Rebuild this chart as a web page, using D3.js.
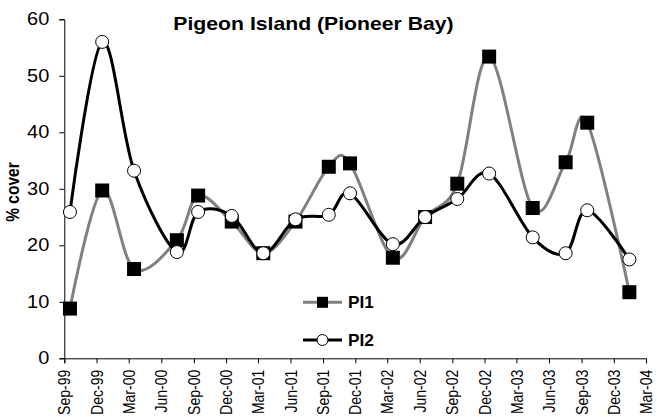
<!DOCTYPE html>
<html>
<head>
<meta charset="utf-8">
<script src="https://cdn.jsdelivr.net/npm/d3@7"></script>
<style>
  html, body { margin: 0; padding: 0; background: #fff; }
  svg { display: block; font-family: "Liberation Sans", Arial, sans-serif; }
</style>
</head>
<body>
<svg id="chart" width="657" height="417"></svg>
<script>
// ---- data ----
const sampleDates = ["1999-09-17","1999-12-17","2000-03-16","2000-07-15","2000-09-13","2000-12-17",
  "2001-03-16","2001-06-15","2001-09-17","2001-11-16","2002-03-17","2002-06-16",
  "2002-09-15","2002-12-14","2003-04-16","2003-07-18","2003-09-17","2004-01-14"];
const pi1 = [8.8, 29.7, 15.8, 20.9, 28.8, 24.2, 18.6, 24.2, 33.9, 34.5, 17.8, 25.0, 30.9, 53.4, 26.6, 34.7, 41.7, 11.7];
const pi2 = [25.9, 56.0, 33.2, 18.8, 25.9, 25.2, 18.6, 24.6, 25.4, 29.2, 20.2, 25.0, 28.2, 32.7, 21.4, 18.6, 26.2, 17.5];
const xTickLabels = ["Sep-99","Dec-99","Mar-00","Jun-00","Sep-00","Dec-00","Mar-01","Jun-01","Sep-01","Dec-01",
  "Mar-02","Jun-02","Sep-02","Dec-02","Mar-03","Jun-03","Sep-03","Dec-03","Mar-04"];
const yTicks = [0, 10, 20, 30, 40, 50, 60];
const seriesNames = ["PI1", "PI2"];
const titleText = "Pigeon Island (Pioneer Bay)";
const yTitle = "% cover";

// ---- setup ----
const SX = 1.14; // horizontal stretch of the reference's lettering
const svg = d3.select("#chart");
const parseISO = d3.timeParse("%Y-%m-%d");
const parseTick = d3.timeParse("%b-%y");
const dates = sampleDates.map(parseISO);
const tickDates = xTickLabels.map(parseTick);

const x = d3.scaleTime().domain([tickDates[0], tickDates[tickDates.length - 1]]).range([64.3, 646]);
const y = d3.scaleLinear().domain([0, 60]).range([358.3, 19.3]);

const line = d3.line()
  .x((d, i) => x(dates[i]))
  .y(d => y(d))
  .curve(d3.curveCatmullRom.alpha(0));

// axes
const yAxis = d3.axisLeft(y).tickValues(yTicks).tickSize(5).tickPadding(8.2).tickFormat(d3.format("d"));
const gy = svg.append("g").attr("transform", "translate(64.3,0)").call(yAxis);
gy.select(".domain").attr("stroke", "#000").attr("stroke-width", 1);
gy.selectAll(".tick line").attr("stroke", "#000");
gy.selectAll(".tick text").attr("font-size", 17.5).attr("fill", "#000")
  .attr("font-family", "'Liberation Sans', Arial, sans-serif")
  .attr("transform", `scale(${SX},1)`);

const xAxis = d3.axisBottom(x).tickValues(tickDates).tickSize(5)
  .tickFormat((d, i) => xTickLabels[i]);
const gx = svg.append("g").attr("transform", "translate(0,358.3)").call(xAxis);
gx.select(".domain").attr("stroke", "#000").attr("stroke-width", 1);
gx.selectAll(".tick line").attr("stroke", "#000");
gx.selectAll(".tick text")
  .attr("font-size", 14).attr("fill", "#000")
  .attr("font-family", "'Liberation Sans', Arial, sans-serif")
  .attr("text-anchor", "end")
  .attr("transform", `scale(${SX},1) rotate(-90)`)
  .attr("x", -11.5).attr("y", 0).attr("dy", "0.35em");

// series PI1
svg.append("path").datum(pi1).attr("d", line)
  .attr("fill", "none").attr("stroke", "#808080").attr("stroke-width", 3);
svg.append("g").selectAll("rect").data(pi1).join("rect")
  .attr("x", (d, i) => x(dates[i]) - 7).attr("y", d => y(d) - 7)
  .attr("width", 14).attr("height", 14).attr("fill", "#000");

// series PI2
svg.append("path").datum(pi2).attr("d", line)
  .attr("fill", "none").attr("stroke", "#000").attr("stroke-width", 3);
svg.append("g").selectAll("circle").data(pi2).join("circle")
  .attr("cx", (d, i) => x(dates[i])).attr("cy", d => y(d))
  .attr("r", 6.5).attr("fill", "#fff").attr("stroke", "#000").attr("stroke-width", 1);

// title
svg.append("text").attr("transform", `translate(313.5,30) scale(${SX},1)`).attr("text-anchor", "middle")
  .attr("font-size", 18.6).attr("font-weight", "bold").attr("fill", "#000")
  .text(titleText);

// y title
svg.append("text").attr("transform", `translate(19,192) scale(${SX},1) rotate(-90)`)
  .attr("text-anchor", "middle").attr("font-size", 15.5).attr("font-weight", "bold")
  .attr("fill", "#000").text(yTitle);

// legend
const leg = svg.append("g");
const legY = [302.3, 340];
leg.append("line").attr("x1", 303).attr("x2", 342).attr("y1", legY[0]).attr("y2", legY[0])
  .attr("stroke", "#808080").attr("stroke-width", 3);
leg.append("rect").attr("x", 322.5 - 5.5).attr("y", legY[0] - 5.5).attr("width", 11).attr("height", 11).attr("fill", "#000");
leg.append("line").attr("x1", 303).attr("x2", 342).attr("y1", legY[1]).attr("y2", legY[1])
  .attr("stroke", "#000").attr("stroke-width", 3);
leg.append("circle").attr("cx", 322.5).attr("cy", legY[1]).attr("r", 5.5)
  .attr("fill", "#fff").attr("stroke", "#000").attr("stroke-width", 1);
leg.selectAll("text").data(seriesNames).join("text")
  .attr("transform", (d, i) => `translate(348,${legY[i] + 6}) scale(1.08,1)`)
  .attr("font-size", 16).attr("font-weight", "bold").attr("fill", "#000")
  .text(d => d);
</script>
</body>
</html>
